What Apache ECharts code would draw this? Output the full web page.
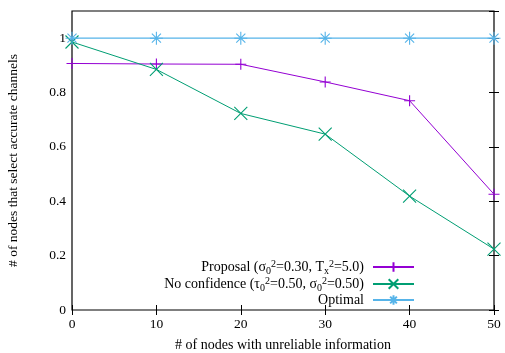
<!DOCTYPE html>
<html><head><meta charset="utf-8">
<script src="https://cdn.jsdelivr.net/npm/echarts@6/dist/echarts.min.js"></script>
<style>html,body{margin:0;padding:0;background:#fff}#c{width:505px;height:353px}</style>
</head><body><div id="c"></div>
<script>
var xValues = [0, 10, 20, 30, 40, 50];
var proposal = [0.907, 0.905, 0.904, 0.839, 0.77, 0.426];
var noConfidence = [0.986, 0.885, 0.723, 0.647, 0.419, 0.224];
var optimal = [1, 1, 1, 1, 1, 1];
var seriesNames = ['Proposal', 'No confidence', 'Optimal'];
var legendLabels = {
  'Proposal': 'Proposal (σ{sub|0}{sup|2}=0.30, T{sub|x}{sup|2}=5.0)',
  'No confidence': 'No confidence (τ{sub|0}{sup|2}=0.50, σ{sub|0}{sup|2}=0.50)',
  'Optimal': 'Optimal'
};

var FONT = 'Liberation Serif';
var FS = 13.5;
var colors = ['#9400d3', '#009e73', '#56b4e9'];
var symbols = [
  'path://M0,5L10,5M5,0L5,10',
  'path://M0,0L10,10M0,10L10,0',
  'path://M0,5L10,5M5,0L5,10M1.5,1.5L8.5,8.5M1.5,8.5L8.5,1.5'
];
var sizes = [11, 13, 13];
var datasets = [proposal, noConfidence, optimal];

function pairs(arr) { return xValues.map(function (x, i) { return [x, arr[i]]; }); }

var series = datasets.map(function (d, i) {
  return {
    name: seriesNames[i],
    type: 'line',
    data: pairs(d),
    xAxisIndex: 0, yAxisIndex: 0,
    symbol: symbols[i],
    symbolSize: sizes[i],
    showAllSymbol: true,
    z: 2 + i,
    lineStyle: { color: colors[i], width: i === 2 ? 1.3 : 1 },
    itemStyle: { color: 'rgba(0,0,0,0)', borderColor: colors[i], borderWidth: 1.1 },
    emphasis: { disabled: true },
    animation: false
  };
});

var PW = 505 - 72 - 11;
var tickOut = { show: true, inside: false, length: 5, lineStyle: { color: '#000', width: 1 } };
var tickIn = { show: true, inside: true, length: 5, lineStyle: { color: '#000', width: 1 } };
var chart = echarts.init(document.getElementById('c'), null, { renderer: 'canvas' });
chart.setOption({
  backgroundColor: '#fff',
  animation: false,
  grid: { left: 72, right: 11, top: 11, bottom: 43, show: true, borderColor: '#000', borderWidth: 1.2,
    containLabel: false, outerBoundsMode: 'none' },
  legend: {
    orient: 'vertical',
    align: 'right',
    right: 90,
    top: 259,
    padding: 0,
    itemGap: 0,
    itemWidth: 41,
    itemHeight: 12,
    data: seriesNames,
    formatter: function (n) { return legendLabels[n]; },
    textStyle: {
      fontFamily: FONT, fontSize: 14, color: '#000', padding: [0, 4, 0, 0],
      rich: {
        sub: { fontFamily: FONT, fontSize: 10, padding: [8, 0, 0, 0], color: '#000' },
        sup: { fontFamily: FONT, fontSize: 10, padding: [0, 0, 6, 0], color: '#000' }
      }
    }
  },
  xAxis: [{
    type: 'value', min: 0, max: 50, interval: 10,
    axisLine: { show: false },
    axisTick: tickIn,
    splitLine: { show: false },
    axisLabel: { fontFamily: FONT, fontSize: FS, color: '#000', margin: 7 },
    name: '# of nodes with unreliable information',
    nameLocation: 'middle', nameGap: 28,
    nameTextStyle: { fontFamily: FONT, fontSize: 14, lineHeight: 14, color: '#000' }
  }, {
    type: 'value', min: 0, max: 50, interval: 10, position: 'top',
    axisLine: { show: false }, axisTick: tickIn, axisLabel: { show: false }, splitLine: { show: false }
  }],
  yAxis: [{
    type: 'value', min: 0, max: 1.1, interval: 0.2, position: 'left',
    axisLine: { show: false },
    axisTick: { show: false },
    splitLine: { show: false },
    axisLabel: {
      fontFamily: FONT, fontSize: FS, color: '#000', margin: 6, showMaxLabel: false,
      formatter: function (v) { return v > 1.05 ? '' : String(Math.round(v * 10) / 10); }
    },
    name: '# of nodes that select accurate channels',
    nameLocation: 'middle', nameGap: 52, nameRotate: 90,
    nameTextStyle: { fontFamily: FONT, fontSize: FS, color: '#000' }
  }, {
    type: 'value', min: 0, max: 1.1, interval: 0.2, position: 'right', offset: -PW,
    axisLine: { show: false }, axisTick: tickOut, axisLabel: { show: false }, splitLine: { show: false }
  }, {
    type: 'value', min: 0, max: 1.1, interval: 0.2, position: 'right',
    axisLine: { show: false }, axisTick: tickIn, axisLabel: { show: false }, splitLine: { show: false }
  }],
  series: series
});
</script></body></html>
